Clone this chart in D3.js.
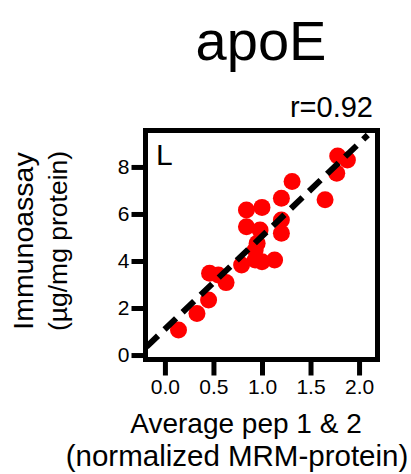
<!DOCTYPE html>
<html>
<head>
<meta charset="utf-8">
<script src="https://cdn.jsdelivr.net/npm/d3@7"></script>
<style>
  body { margin: 0; background: #fff; }
  text { font-family: Arial, "Liberation Sans", sans-serif; fill: #000; }
</style>
</head>
<body>
<svg id="graph"></svg>
<script>
let pepAvg = [0.14, 0.33, 0.45, 0.46, 0.55, 0.63, 0.79, 0.84, 1.00, 0.84, 0.98, 0.95, 0.93, 0.93, 1.00, 1.13, 1.20, 1.20, 1.20, 1.31, 1.65, 1.77, 1.78, 1.88]
let immuno = [1.06, 1.77, 2.34, 3.48, 3.40, 3.08, 3.83, 6.17, 6.28, 5.46, 5.32, 4.75, 4.47, 4.04, 3.97, 4.04, 5.18, 5.74, 6.67, 7.38, 6.60, 7.73, 8.47, 8.30]
let fitEnds = [[-0.19, 0.35], [2.09, 9.36]]
let xTicks = [0, 0.5, 1, 1.5, 2]
let yTicks = [0, 2, 4, 6, 8]

let width = 411
let height = 474

let svg = d3.select('svg#graph')
            .attr('width', width)
            .attr('height', height)

svg.append('rect')
   .attr('width', width)
   .attr('height', height)
   .attr('fill', '#fff')

let x = d3.scaleLinear().domain([-0.2, 2.19]).range([145.5, 377.5])
let y = d3.scaleLinear().domain([-0.19, 9.55]).range([359.5, 130.5])

// axes
let xAxis = svg.append('g')
   .attr('transform', 'translate(0,' + y.range()[0] + ')')
   .call(d3.axisBottom(x).tickValues(xTicks).tickFormat(d3.format('.1f')).tickSize(16).tickPadding(4))
let yAxis = svg.append('g')
   .attr('transform', 'translate(' + x.range()[0] + ',0)')
   .call(d3.axisLeft(y).tickValues(yTicks).tickSize(14).tickPadding(2))

for (let ax of [xAxis, yAxis]) {
  ax.select('.domain').remove()
  ax.selectAll('line').attr('stroke', '#000').attr('stroke-width', 5)
  ax.selectAll('text').style('font-size', '21px').attr('fill', '#000')
}

// points
svg.append('g').selectAll('circle')
   .data(pepAvg)
   .join('circle')
   .attr('cx', d => x(d))
   .attr('cy', (d, i) => y(immuno[i]))
   .attr('r', 8.5)
   .attr('fill', '#ff0000')

// regression line
svg.append('path')
   .datum(fitEnds)
   .attr('d', d3.line().x(d => x(d[0])).y(d => y(d[1])))
   .attr('stroke', '#000')
   .attr('stroke-width', 6)
   .attr('stroke-dasharray', '16,9')
   .attr('fill', 'none')

// frame
svg.append('rect')
   .attr('x', x.range()[0])
   .attr('y', y.range()[1])
   .attr('width', x.range()[1] - x.range()[0])
   .attr('height', y.range()[0] - y.range()[1])
   .attr('fill', 'none')
   .attr('stroke', '#000')
   .attr('stroke-width', 5)

// texts
svg.append('text').attr('x', 261).attr('y', 60).attr('text-anchor', 'middle')
   .style('font-size', '56px').text('apoE')
svg.append('text').attr('x', 373).attr('y', 117).attr('text-anchor', 'end')
   .style('font-size', '29px').text('r=0.92')
svg.append('text').attr('x', 156).attr('y', 165)
   .style('font-size', '30px').text('L')

svg.append('text').attr('x', 246).attr('y', 433).attr('text-anchor', 'middle')
   .style('font-size', '28px').text('Average pep 1 & 2')
svg.append('text').attr('x', 237).attr('y', 466).attr('text-anchor', 'middle')
   .style('font-size', '29.5px').text('(normalized MRM-protein)')

svg.append('text').attr('transform', 'translate(33,241) rotate(-90)').attr('text-anchor', 'middle')
   .style('font-size', '28.5px').text('Immunoassay')
svg.append('text').attr('transform', 'translate(67,241) rotate(-90)').attr('text-anchor', 'middle')
   .style('font-size', '26.5px').text('(µg/mg protein)')
</script>
</body>
</html>
